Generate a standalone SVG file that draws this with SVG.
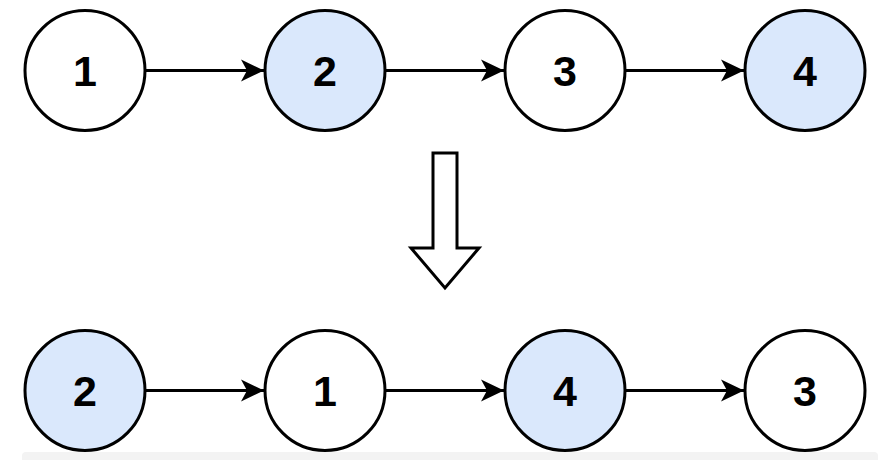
<svg xmlns="http://www.w3.org/2000/svg" width="892" height="460" viewBox="0 0 892 460">
<defs>
<style>
.node circle{stroke:#000;stroke-width:3}
.w{fill:#fff}
.b{fill:#dae8fc}
.node text{font-family:"Liberation Sans",Arial,sans-serif;font-weight:bold;font-size:43px;text-anchor:middle;fill:#000}
.edge{stroke:#000;stroke-width:3;fill:none}
</style>
<marker id="ah" markerUnits="userSpaceOnUse" markerWidth="26" markerHeight="24" refX="24" refY="12" orient="auto">
<path d="M24,12 L1,1 L7,12 L1,23 Z" fill="#000"/>
</marker>
</defs>
<rect width="892" height="460" fill="#fff"/>
<rect x="22" y="452" width="856" height="14" rx="4" fill="#f3f3f3"/>
<g id="connectors">
<line class="edge" x1="146" y1="70.5" x2="264" y2="70.5" marker-end="url(#ah)"/>
<line class="edge" x1="386" y1="70.5" x2="504" y2="70.5" marker-end="url(#ah)"/>
<line class="edge" x1="626" y1="70.5" x2="744" y2="70.5" marker-end="url(#ah)"/>
<line class="edge" x1="146" y1="390.5" x2="264" y2="390.5" marker-end="url(#ah)"/>
<line class="edge" x1="386" y1="390.5" x2="504" y2="390.5" marker-end="url(#ah)"/>
<line class="edge" x1="626" y1="390.5" x2="744" y2="390.5" marker-end="url(#ah)"/>
</g>
<g id="top1" class="node"><circle class="w" cx="85" cy="70.5" r="60"/><text x="85" y="86">1</text></g>
<g id="top2" class="node"><circle class="b" cx="325" cy="70.5" r="60"/><text x="325" y="86">2</text></g>
<g id="top3" class="node"><circle class="w" cx="565" cy="70.5" r="60"/><text x="565" y="86">3</text></g>
<g id="top4" class="node"><circle class="b" cx="805" cy="70.5" r="60"/><text x="805" y="86">4</text></g>
<g id="bigArrow">
<path d="M433,153 L457,153 L457,248 L479,248 L445,288 L411,248 L433,248 Z" fill="#fff" stroke="#000" stroke-width="3" stroke-linejoin="miter"/>
</g>
<g id="bot2" class="node"><circle class="b" cx="85" cy="390.5" r="60"/><text x="85" y="406">2</text></g>
<g id="bot1" class="node"><circle class="w" cx="325" cy="390.5" r="60"/><text x="325" y="406">1</text></g>
<g id="bot4" class="node"><circle class="b" cx="565" cy="390.5" r="60"/><text x="565" y="406">4</text></g>
<g id="bot3" class="node"><circle class="w" cx="805" cy="390.5" r="60"/><text x="805" y="406">3</text></g>
</svg>
